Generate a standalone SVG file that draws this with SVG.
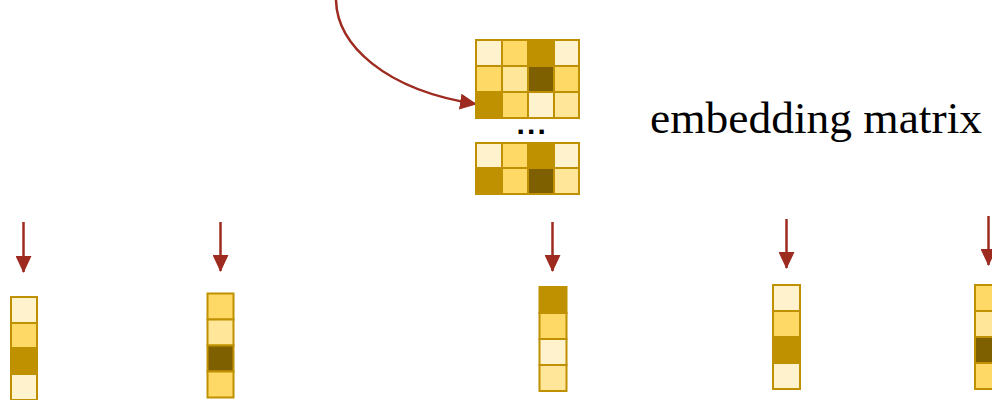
<svg xmlns="http://www.w3.org/2000/svg" width="992" height="400" viewBox="0 0 992 400">
<defs>
<style>
.c{stroke:#BF9000;stroke-width:2}
.a{fill:#FFF2CC}.b{fill:#FFD966}.m{fill:#FFE699}.g{fill:#BF9000}.d{fill:#7F6000}
.ln{fill:none;stroke:#9E2B20;stroke-width:2.5}
.lbl{font-family:"Liberation Serif","Times New Roman",serif;font-size:45px;fill:#000}
.dots{font-family:"Liberation Sans",Arial,sans-serif;font-size:30px;font-weight:bold;fill:#000}
</style>
<marker id="ah" markerUnits="userSpaceOnUse" markerWidth="17" markerHeight="16" refX="16" refY="8" orient="auto" viewBox="0 0 17 16">
<path d="M0,0 L17,8 L0,16 z" fill="#9E2B20"/>
</marker>
</defs>
<rect width="992" height="400" fill="#fff"/>
<g id="connectors">
<path class="ln" d="M336,0 C337,45 385,90 476,104" marker-end="url(#ah)"/>
<path class="ln" d="M23.5,222 V272" marker-end="url(#ah)"/>
<path class="ln" d="M220.5,222 V271" marker-end="url(#ah)"/>
<path class="ln" d="M552.5,222 V271" marker-end="url(#ah)"/>
<path class="ln" d="M786.5,219 V268" marker-end="url(#ah)"/>
<path class="ln" d="M988.5,216 V265" marker-end="url(#ah)"/>
</g>
<g id="embedding-matrix">
<g id="matrix-top">
<rect class="c a" x="476" y="40" width="26" height="26"/>
<rect class="c b" x="502" y="40" width="26" height="26"/>
<rect class="c g" x="528" y="40" width="26" height="26"/>
<rect class="c a" x="554" y="40" width="25" height="26"/>
<rect class="c b" x="476" y="66" width="26" height="26"/>
<rect class="c m" x="502" y="66" width="26" height="26"/>
<rect class="c d" x="528" y="66" width="26" height="26"/>
<rect class="c b" x="554" y="66" width="25" height="26"/>
<rect class="c g" x="476" y="92" width="26" height="26"/>
<rect class="c b" x="502" y="92" width="26" height="26"/>
<rect class="c a" x="528" y="92" width="26" height="26"/>
<rect class="c m" x="554" y="92" width="25" height="26"/>
</g>
<text class="dots" x="516.5" y="134" letter-spacing="2.2">...</text>
<g id="matrix-bottom">
<rect class="c a" x="476" y="143" width="26" height="25"/>
<rect class="c b" x="502" y="143" width="26" height="25"/>
<rect class="c g" x="528" y="143" width="26" height="25"/>
<rect class="c a" x="554" y="143" width="25" height="25"/>
<rect class="c g" x="476" y="168" width="26" height="26"/>
<rect class="c b" x="502" y="168" width="26" height="26"/>
<rect class="c d" x="528" y="168" width="26" height="26"/>
<rect class="c m" x="554" y="168" width="25" height="26"/>
</g>
</g>
<g id="label">
<text class="lbl" x="650" y="133" textLength="332" lengthAdjust="spacingAndGlyphs">embedding matrix</text>
</g>
<g id="vector-1">
<rect class="c a" x="11" y="297" width="26" height="26"/>
<rect class="c b" x="11" y="323" width="26" height="25"/>
<rect class="c g" x="11" y="348" width="26" height="26"/>
<rect class="c a" x="11" y="374" width="26" height="26"/>
</g>
<g id="vector-2">
<rect class="c b" x="207.5" y="293.5" width="26" height="26"/>
<rect class="c m" x="207.5" y="319.5" width="26" height="26"/>
<rect class="c d" x="207.5" y="345.5" width="26" height="26"/>
<rect class="c b" x="207.5" y="371.5" width="26" height="26"/>
</g>
<g id="vector-3">
<rect class="c g" x="539.5" y="287" width="27" height="26"/>
<rect class="c b" x="539.5" y="313" width="27" height="26"/>
<rect class="c a" x="539.5" y="339" width="27" height="26"/>
<rect class="c m" x="539.5" y="365" width="27" height="26"/>
</g>
<g id="vector-4">
<rect class="c a" x="773" y="285" width="27" height="26"/>
<rect class="c b" x="773" y="311" width="27" height="26"/>
<rect class="c g" x="773" y="337" width="27" height="26"/>
<rect class="c a" x="773" y="363" width="27" height="26"/>
</g>
<g id="vector-5">
<rect class="c b" x="975" y="285" width="27" height="26"/>
<rect class="c m" x="975" y="311" width="27" height="26"/>
<rect class="c d" x="975" y="337" width="27" height="26"/>
<rect class="c b" x="975" y="363" width="27" height="26"/>
</g>
</svg>
